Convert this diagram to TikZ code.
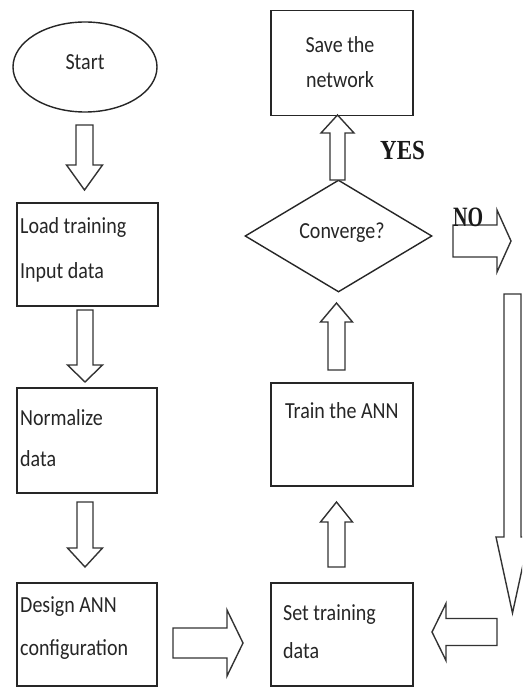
\documentclass[tikz,border=0pt]{standalone}
\usepackage{fontspec}
\setmainfont{Carlito}
\newfontfamily\yesfont{Liberation Serif}
\usetikzlibrary{shapes.geometric}
\tikzset{
  box/.style={draw=black!85, line width=1.5pt, rectangle, inner sep=0pt, anchor=north west},
  blk/.style={draw=black!80, line width=1.4pt, line join=miter, fill=white},
  lbl/.style={inner sep=0pt, text=black!85, font=\fontsize{20}{24}\selectfont},
  dec/.style={inner sep=0pt, text=black!90, font=\yesfont\bfseries\fontsize{23}{26}\selectfont},
}
\newcommand\vblk[6]{\draw[blk] ({#1-#5},#2) -- ({#1+#5},#2) -- ({#1+#5},#3) -- ({#1+#6},#3) -- (#1,#4) -- ({#1-#6},#3) -- ({#1-#5},#3) -- cycle;}
\newcommand\hblk[6]{\draw[blk] (#2,{#1-#5}) -- (#2,{#1+#5}) -- (#3,{#1+#5}) -- (#3,{#1+#6}) -- (#4,#1) -- (#3,{#1-#6}) -- (#3,{#1-#5}) -- cycle;}
\newcommand\sy[1]{\scalebox{1}[1.15]{#1}}
\begin{document}
\begin{tikzpicture}[x=1pt,y=-1pt]
\fill[white] (0,0) rectangle (522,687);
\clip (0,0) rectangle (522,687);
% shapes
\node[draw=black!85, line width=1.4pt, ellipse, minimum width=144pt, minimum height=90pt, inner sep=0pt] (start) at (85,67) {};
\node[box, minimum width=141pt, minimum height=103pt] (load) at (16,202) {};
\node[box, minimum width=140pt, minimum height=105pt] (norm) at (16,387) {};
\node[box, minimum width=140pt, minimum height=103pt] (design) at (16,582) {};
\node[box, minimum width=142pt, minimum height=103pt] (set) at (270,582) {};
\node[box, minimum width=142pt, minimum height=103pt] (train) at (270,382) {};
\node[draw=black!85, line width=1.4pt, diamond, minimum width=187pt, minimum height=112pt, inner sep=0pt] (conv) at (338.5,236) {};
\node[box, minimum width=142pt, minimum height=105pt] (save) at (270,10) {};
% labels
\node[lbl, anchor=base] (starttxt) at (85,70) {\sy{Start}};
\node[lbl, anchor=base west] (load1) at (20,233) {\sy{Load training}};
\node[lbl, anchor=base west] (load2) at (20,278) {\sy{Input data}};
\node[lbl, anchor=base west] (norm1) at (20,425) {\sy{Normalize}};
\node[lbl, anchor=base west] (norm2) at (20,466) {\sy{data}};
\node[lbl, anchor=base west] (des1) at (20,612) {\sy{Design ANN}};
\node[lbl, anchor=base west] (des2) at (20,655) {\sy{configuration}};
\node[lbl, anchor=base west] (set1) at (283,620) {\sy{Set training}};
\node[lbl, anchor=base west] (set2) at (283,658) {\sy{data}};
\node[lbl, anchor=base west] (train1) at (285,418) {\sy{Train the ANN}};
\node[lbl, anchor=base] (conv1) at (342,238) {\sy{Converge?}};
\node[lbl, anchor=base] (save1) at (340,53) {\sy{Save the}};
\node[lbl, anchor=base] (save2) at (340,88) {\sy{network}};
% block arrows
\vblk{84.5}{125}{165}{190}{8.5}{18}
\vblk{85}{310}{365}{382}{8}{17.5}
\vblk{85}{502}{548}{567}{8}{17.5}
\hblk{643}{173}{227}{243}{15}{33}
\vblk{336.5}{567}{522}{502}{8.5}{16}
\vblk{336.5}{370}{322}{303}{8.5}{16}
\vblk{337.5}{180}{133}{115}{7.5}{16.5}
\hblk{241}{453}{497}{511}{16}{31}
\vblk{512.5}{294}{537}{613}{8.5}{16.5}
\hblk{632}{497}{446}{432}{13.5}{28.5}
% decisions
\node[dec, anchor=base west] (yes) at (380,160) {\scalebox{1}[1.2]{YES}};
\node[dec, anchor=base west, font=\yesfont\bfseries\fontsize{20}{24}\selectfont] (no) at (453,226) {\scalebox{1}[1.4]{NO}};
\end{tikzpicture}
\end{document}
